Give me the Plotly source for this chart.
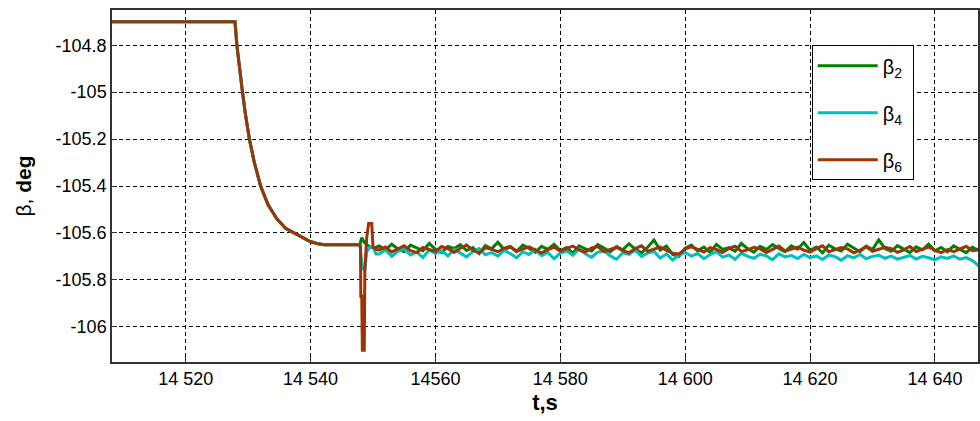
import plotly.graph_objects as go

# ---- data ----
# common settling part (all three angles coincide here)
t_common = [14508.0, 14527.9, 14528.2, 14528.6, 14529.1, 14529.6, 14530.2, 14531.0,
            14532.0, 14533.2, 14534.6, 14536.0, 14537.4, 14538.6, 14539.8, 14541.0,
            14542.2, 14547.9]
b_common = [-104.70, -104.70, -104.80, -104.90, -105.00, -105.10, -105.20, -105.30,
            -105.40, -105.48, -105.54, -105.58, -105.60, -105.62, -105.635, -105.645,
            -105.65, -105.65]

# transient around 14548 s
t_tr2 = [14548.2, 14548.6, 14549.0, 14549.6, 14550.2]
b2_tr = [-105.62, -105.64, -105.65, -105.66, -105.665]
t_tr4 = [14548.3, 14548.7, 14549.0, 14549.5, 14550.0, 14550.5]
b4_tr = [-105.75, -105.76, -105.68, -105.66, -105.66, -105.69]
t_tr6 = [14548.0, 14548.05, 14548.2, 14548.3, 14548.6, 14548.7, 14549.0, 14549.3,
         14549.8, 14550.0, 14550.5]
b6_tr = [-105.66, -105.87, -105.87, -106.10, -106.10, -105.75, -105.62, -105.56,
         -105.56, -105.66, -105.67]

# steady-state noisy part, sampled every 1 s from 14551 s
t_noise_start = 14551
t_noise_step = 1
b2_noise = [
    -105.655, -105.672, -105.648, -105.668, -105.680, -105.652, -105.664, -105.676, -105.645, -105.670,
    -105.684, -105.658, -105.666, -105.650, -105.675, -105.662, -105.688, -105.654, -105.668, -105.640,
    -105.671, -105.660, -105.679, -105.652, -105.666, -105.683, -105.657, -105.670, -105.648, -105.675,
    -105.662, -105.686, -105.655, -105.668, -105.677, -105.650, -105.664, -105.681, -105.658, -105.672,
    -105.646, -105.669, -105.685, -105.661, -105.630, -105.673, -105.656, -105.692, -105.700, -105.665,
    -105.652, -105.676, -105.660, -105.684, -105.649, -105.670, -105.663, -105.678, -105.645, -105.667,
    -105.682, -105.657, -105.671, -105.650, -105.666, -105.680, -105.655, -105.669, -105.641, -105.674,
    -105.660, -105.685, -105.652, -105.668, -105.677, -105.648, -105.664, -105.680, -105.656, -105.671,
    -105.630, -105.666, -105.678, -105.654, -105.669, -105.683, -105.659, -105.672, -105.648, -105.676,
    -105.662, -105.680, -105.655, -105.670, -105.684, -105.661, -105.673]
b4_noise = [
    -105.690, -105.672, -105.700, -105.678, -105.668, -105.694, -105.681, -105.705, -105.673, -105.688,
    -105.676, -105.698, -105.670, -105.686, -105.702, -105.679, -105.667, -105.693, -105.684, -105.699,
    -105.674, -105.688, -105.706, -105.680, -105.692, -105.671, -105.697, -105.683, -105.710, -105.686,
    -105.677, -105.695, -105.669, -105.689, -105.704, -105.682, -105.676, -105.698, -105.712, -105.685,
    -105.691, -105.674, -105.700, -105.686, -105.679, -105.707, -105.690, -105.715, -105.695, -105.683,
    -105.699, -105.688, -105.710, -105.692, -105.680, -105.703, -105.694, -105.712, -105.686, -105.700,
    -105.708, -105.691, -105.698, -105.714, -105.689, -105.702, -105.696, -105.709, -105.692, -105.705,
    -105.698, -105.713, -105.694, -105.701, -105.716, -105.697, -105.706, -105.692, -105.710, -105.700,
    -105.695, -105.708, -105.699, -105.712, -105.703, -105.696, -105.711, -105.700, -105.706, -105.715,
    -105.702, -105.709, -105.698, -105.712, -105.705, -105.718, -105.740]
b6_noise = [
    -105.672, -105.660, -105.681, -105.668, -105.655, -105.676, -105.684, -105.662, -105.671, -105.679,
    -105.658, -105.667, -105.683, -105.665, -105.652, -105.674, -105.686, -105.663, -105.670, -105.680,
    -105.666, -105.657, -105.678, -105.669, -105.659, -105.673, -105.685, -105.671, -105.661, -105.677,
    -105.668, -105.656, -105.672, -105.682, -105.664, -105.658, -105.679, -105.670, -105.662, -105.675,
    -105.684, -105.667, -105.655, -105.678, -105.669, -105.660, -105.674, -105.686, -105.690, -105.668,
    -105.659, -105.671, -105.681, -105.663, -105.670, -105.683, -105.666, -105.657, -105.679, -105.672,
    -105.661, -105.668, -105.684, -105.670, -105.656, -105.677, -105.669, -105.660, -105.673, -105.682,
    -105.667, -105.655, -105.680, -105.671, -105.662, -105.668, -105.685, -105.673, -105.659, -105.678,
    -105.670, -105.661, -105.667, -105.683, -105.672, -105.658, -105.679, -105.668, -105.660, -105.674,
    -105.684, -105.671, -105.680, -105.669, -105.657, -105.676, -105.672]

x_tickvals = [14520, 14540, 14560, 14580, 14600, 14620, 14640]
x_ticktext = ["14 520", "14 540", "14560", "14 580", "14 600", "14 620", "14 640"]
y_tickvals = [-104.8, -105.0, -105.2, -105.4, -105.6, -105.8, -106.0]
y_ticktext = ["-104.8", "-105", "-105.2", "-105.4", "-105.6", "-105.8", "-106"]

names = ["β<sub>2</sub>\u00a0", "β<sub>4</sub>\u00a0", "β<sub>6</sub>\u00a0"]
colors = ["#008000", "#00BFBF", "#9C3408"]

t_noise = [t_noise_start + i * t_noise_step for i in range(len(b6_noise))]

series = [
    (t_common + t_tr2 + t_noise, b_common + b2_tr + b2_noise),
    (t_common + t_tr4 + t_noise, b_common + b4_tr + b4_noise),
    (t_common + t_tr6 + t_noise, b_common + b6_tr + b6_noise),
]

fig = go.Figure()
for i, ((tx, by), nm, col) in enumerate(zip(series, names, colors)):
    fig.add_trace(go.Scatter(x=tx, y=by, mode="lines", name=nm,
                             legendgroup=f"g{i}",
                             line=dict(color=col, width=3)))

font_family = "Liberation Sans, Arial, sans-serif"
fig.update_layout(
    width=980, height=421,
    margin=dict(l=112, r=0, t=10, b=59),
    paper_bgcolor="white", plot_bgcolor="white",
    font=dict(family=font_family, size=18, color="black"),
    showlegend=True,
    legend=dict(x=0.808, y=0.9, xanchor="left", yanchor="top",
                bgcolor="white", bordercolor="black", borderwidth=1,
                font=dict(size=20), tracegroupgap=18, itemwidth=60,
                traceorder="grouped"),
)
fig.update_xaxes(
    range=[14508.2, 14646.9],
    tickvals=x_tickvals, ticktext=x_ticktext,
    tickfont=dict(size=18),
    showgrid=True, gridcolor="black", gridwidth=1, griddash="4px,3px",
    showline=True, linecolor="#333333", linewidth=1.5, mirror=True,
    ticks="inside", ticklen=5, tickcolor="#333333",
    zeroline=False,
    title=dict(text="<b>t,s</b>", font=dict(size=22), standoff=6),
)
fig.update_yaxes(
    range=[-106.15, -104.65],
    tickvals=y_tickvals, ticktext=y_ticktext,
    tickfont=dict(size=18),
    showgrid=True, gridcolor="black", gridwidth=1, griddash="4px,3px",
    showline=True, linecolor="#333333", linewidth=1.5, mirror=True,
    ticks="inside", ticklen=5, tickcolor="#333333",
    zeroline=False,
    title=dict(text="β, <b>deg</b>", font=dict(size=21), standoff=18),
)

fig.write_html("out.html", config={"displayModeBar": False},
               post_script="document.body.style.margin='0px';")
